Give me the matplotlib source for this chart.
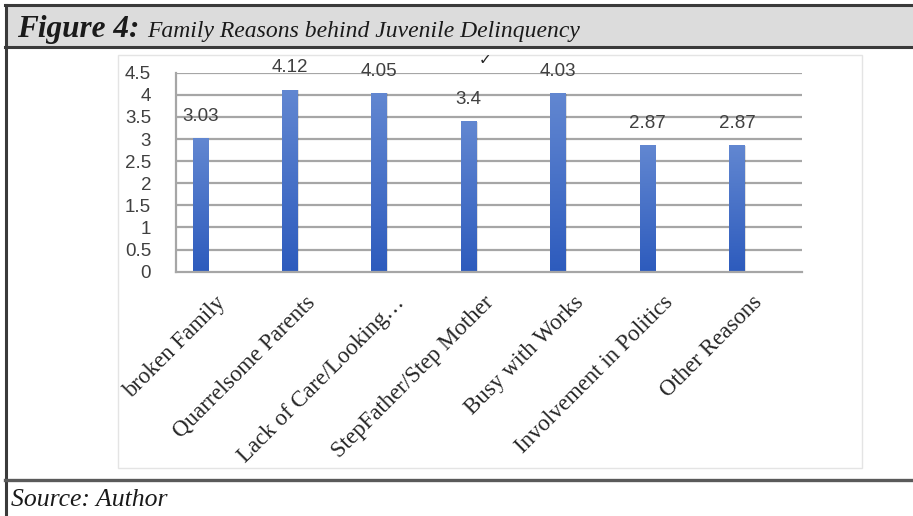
import numpy as np
import matplotlib
matplotlib.use("Agg")
import matplotlib.pyplot as plt
from matplotlib.patches import Rectangle
from matplotlib.lines import Line2D
from matplotlib.colors import LinearSegmentedColormap
import matplotlib.transforms as mtransforms

categories = [
    "broken Family",
    "Quarrelsome Parents",
    "Lack of Care/Looking\u2026",
    "StepFather/Step Mother",
    "Busy with Works",
    "Involvement in Politics",
    "Other Reasons",
]
values = [3.03, 4.12, 4.05, 3.4, 4.03, 2.87, 2.87]
y_ticks = [0, 0.5, 1, 1.5, 2, 2.5, 3, 3.5, 4, 4.5]
y_tick_labels = ["0", "0.5", "1", "1.5", "2", "2.5", "3", "3.5", "4", "4.5"]

W, H = 913, 516
fig = plt.figure(figsize=(W / 100, H / 100), dpi=100)
fig.patch.set_facecolor("white")


def fx(px):
    return px / W


def fy(py):
    return 1 - py / H


# Title band with frame lines
fig.add_artist(Rectangle((fx(5), fy(47)), fx(W - 5), (47 - 5) / H,
                         transform=fig.transFigure, facecolor="#dcdcdc",
                         edgecolor="none", zorder=0))
for yy in (5, 47):
    fig.add_artist(Line2D([fx(5), 1], [fy(yy), fy(yy)], transform=fig.transFigure,
                          color="#3a3a3a", lw=2.2))
fig.add_artist(Line2D([fx(6), fx(6)], [fy(5), 0], transform=fig.transFigure,
                      color="#3a3a3a", lw=2.2))
fig.add_artist(Line2D([fx(5), 1], [fy(480), fy(480)], transform=fig.transFigure,
                      color="#5a5a5a", lw=2.4))

# Inner chart panel
fig.add_artist(Rectangle((fx(118), fy(468)), fx(862 - 118), (468 - 55) / H,
                         transform=fig.transFigure, facecolor="white",
                         edgecolor="#e4e4e4", lw=1.0, zorder=0))

fig.text(fx(17), fy(37), "Figure 4:", fontsize=22.5, fontweight="bold", style="italic",
         family="Liberation Serif", color="#1a1a1a", va="baseline", ha="left")
fig.text(fx(147), fy(37), "Family Reasons behind Juvenile Delinquency", fontsize=17.0,
         style="italic", family="Liberation Serif", color="#1a1a1a",
         va="baseline", ha="left")
fig.text(fx(11), fy(506), "Source: Author", fontsize=18.5, style="italic",
         family="Liberation Serif", color="#1a1a1a", va="baseline", ha="left")

# Plot area
ax = fig.add_axes([fx(176), fy(271.7), fx(802 - 176), (271.7 - 72.7) / H])
ax.set_facecolor("none")
x = np.arange(len(categories))
ax.set_xlim(-0.273, len(categories) - 0.273)
ax.set_ylim(0, 4.5)

for t in y_ticks[1:]:
    ax.axhline(t, color="#a6a6a6", lw=1.6, zorder=1)
for s in ("top", "right"):
    ax.spines[s].set_visible(False)
for s in ("left", "bottom"):
    ax.spines[s].set_color("#a6a6a6")
    ax.spines[s].set_linewidth(1.6)

bar_w = 0.175
cmap = LinearSegmentedColormap.from_list("barfill", ["#2d5bbd", "#6287d1"])
grad = np.linspace(0, 1, 256).reshape(-1, 1)
bars = ax.bar(x, values, width=bar_w, color="none", zorder=2)
for b, v in zip(bars, values):
    x0 = b.get_x()
    # soft drop shadow
    ax.add_patch(Rectangle((x0 + 0.012, 0), bar_w, v - 0.02, facecolor="#000000",
                           alpha=0.12, edgecolor="none", zorder=1.8))
    im = ax.imshow(grad, extent=[x0, x0 + bar_w, 0, v], origin="lower", cmap=cmap,
                   aspect="auto", zorder=2)
    im.set_clip_path(b)

for xi, v in zip(x, values):
    ax.text(xi, v, f"{v:g}", ha="center", va="center", fontsize=13.5,
            family="Liberation Sans", color="#404040",
            transform=mtransforms.offset_copy(ax.transData, fig=fig, x=0,
                                              y=15.5, units="points"))

# small stray mark above the chart
ax.text(485 / W, fy(60), "\u2713", transform=fig.transFigure, fontsize=11,
        fontweight="bold", color="#222222", ha="center", va="center",
        family="DejaVu Sans")

ax.set_yticks(y_ticks)
ax.set_yticklabels(y_tick_labels, fontsize=13.5, family="Liberation Sans", color="#404040")
ax.tick_params(axis="y", length=0, pad=18)
ax.set_xticks(x)
ax.set_xticklabels([])
ax.tick_params(axis="x", length=0)

for xi, lab in zip(x, categories):
    tr = mtransforms.offset_copy(ax.transData, fig=fig, x=16, y=-20, units="points")
    ax.text(xi, 0, lab, rotation=45, rotation_mode="anchor", ha="right", va="center",
            fontsize=16.5, family="Liberation Serif", color="#262626", transform=tr)

fig.savefig("out.png", dpi=100, facecolor="white")
